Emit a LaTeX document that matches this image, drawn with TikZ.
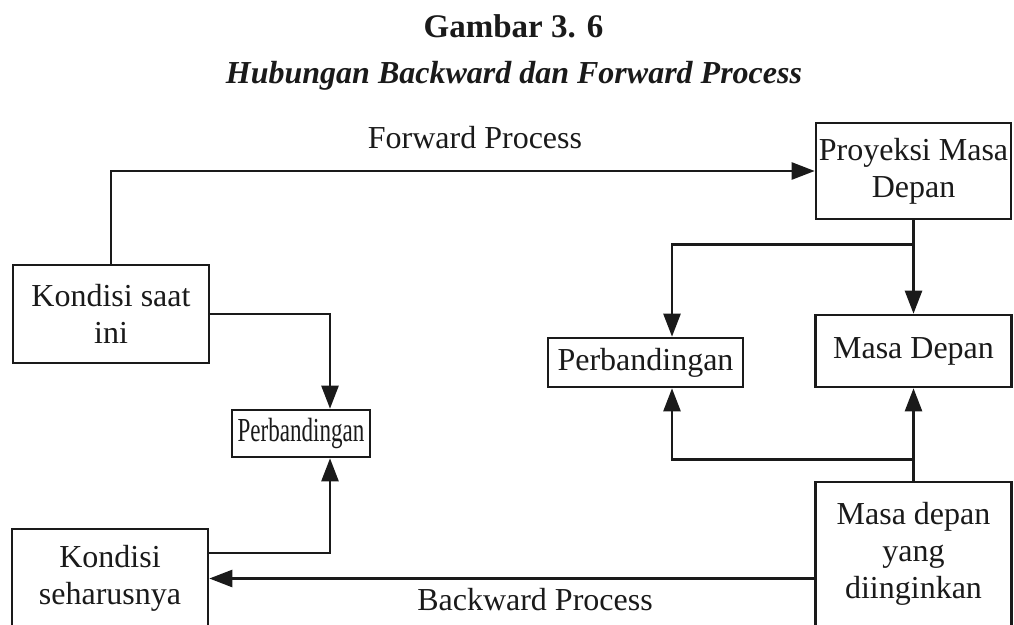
\documentclass[tikz,border=0pt]{standalone}
\usepackage{fontspec}
\setmainfont{Liberation Serif}
\usetikzlibrary{arrows.meta}
\definecolor{ink}{HTML}{1A1A1A}
\begin{document}
\begin{tikzpicture}[x=1pt,y=-1pt,
  txt/.style={font=\fontsize{32}{37}\selectfont, text=ink},
  box/.style={txt, draw=ink, line width=2.6pt, fill=white, align=center, inner sep=0pt},
  link/.style={draw=ink, line width=2.5pt},
  arr/.style={link, -{Triangle[length=23pt,width=17pt]}},
  lbl/.style={txt, anchor=base, inner sep=0pt}]

\useasboundingbox (0,0) rectangle (1014,624);
\clip (0,0) rectangle (1014,624);

% headings
\node[lbl, font=\fontsize{33}{38}\selectfont\bfseries] (title) at (513.5,37) {Gambar 3. 6};
\node[lbl, font=\fontsize{32}{37}\selectfont\bfseries\itshape] (subtitle) at (514,83) {Hubungan Backward dan Forward Process};

% boxes
\node[box, minimum width=196pt, minimum height=98pt]  (ksi) at (111,314)     {Kondisi saat\\ini};
\node[box, minimum width=195pt, minimum height=96pt]  (pmd) at (913.5,171)   {Proyeksi Masa\\Depan};
\node[box, minimum width=196pt, minimum height=72pt]  (md)  at (913.5,351)   {Masa Depan};
\node[box, minimum width=195pt, minimum height=49pt]  (pr)  at (645.5,362.5) {Perbandingan};
\node[box, minimum width=138pt, minimum height=47pt]  (pl)  at (301,433.5)   {\scalebox{0.72}[1.05]{Perbandingan}};
\node[box, minimum width=196pt, minimum height=99pt]  (ks)  at (110,578.5)   {Kondisi\\seharusnya};
\node[box, minimum width=196pt, minimum height=144pt] (mdi) at (913.5,554)   {Masa depan\\yang\\diinginkan};

% forward process
\draw[arr] (ksi.north) |- (pmd.west);
\node[lbl] (fwd) at (475,148) {Forward Process};
\draw[arr] (pmd.south) -- (md.north);
\coordinate (split) at ([yshift=-24pt]pmd.south);
\draw[arr] (split) -| ([xshift=26.5pt]pr.north);

% current condition to comparison
\draw[arr] (ksi.east) -| ([xshift=29pt]pl.north);
\draw[arr] ([yshift=25.5pt]ks.east) -| ([xshift=29pt]pl.south);

% backward process
\draw[arr] (mdi.west |- ks.east) -- (ks.east);
\node[lbl] (bwd) at (535,610) {Backward Process};
\draw[arr] (mdi.north) -- (md.south);
\coordinate (join) at ([yshift=21pt]mdi.north);
\draw[arr] (join) -| ([xshift=26.5pt]pr.south);
\end{tikzpicture}
\end{document}
